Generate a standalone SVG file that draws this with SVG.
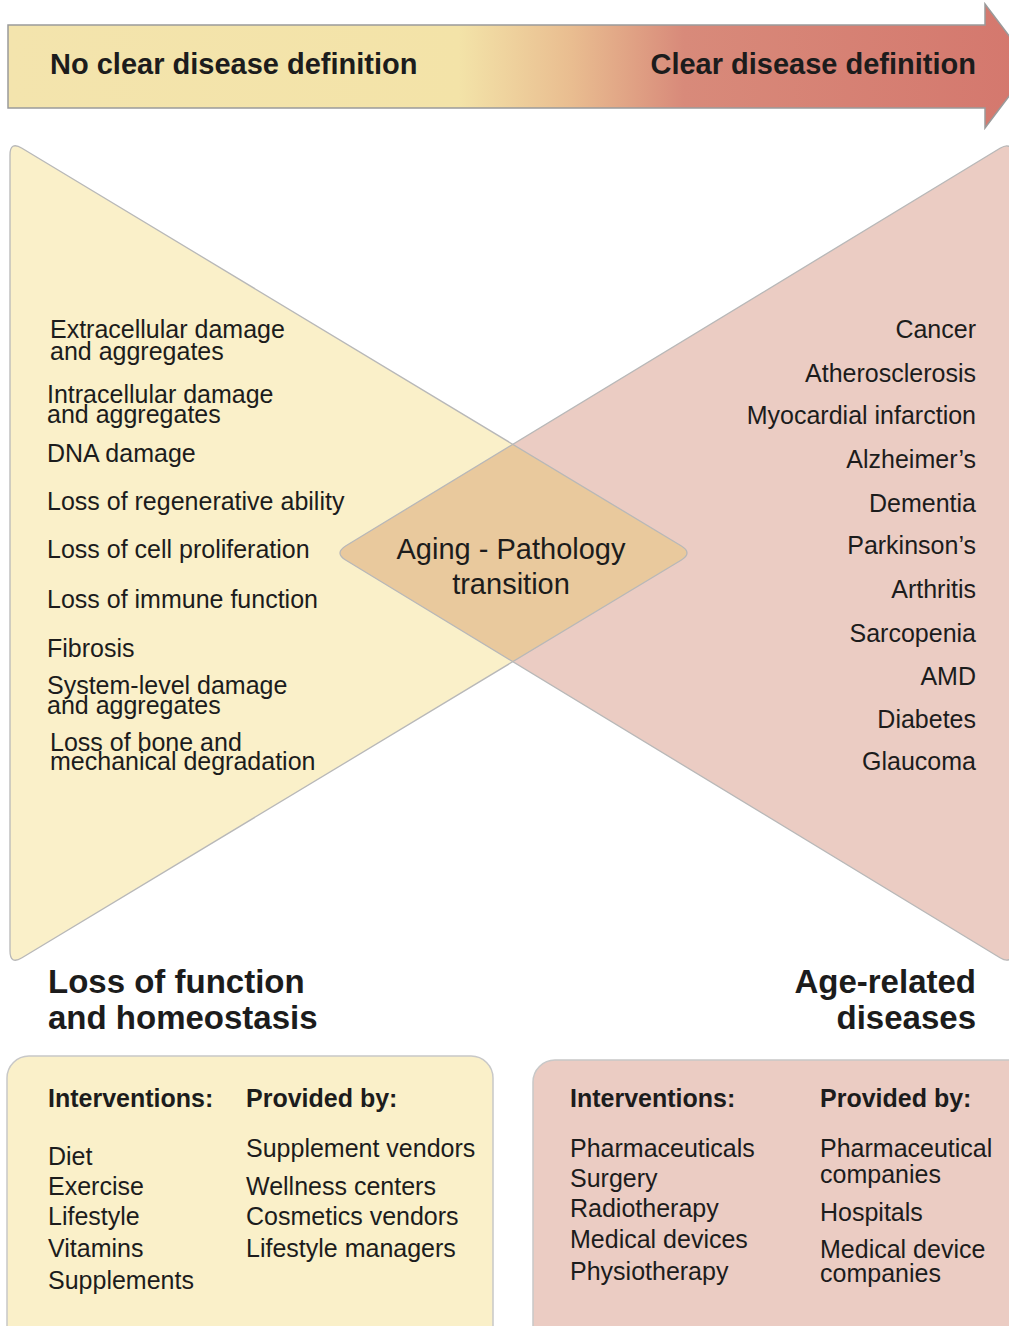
<svg xmlns="http://www.w3.org/2000/svg" width="1009" height="1326" viewBox="0 0 1009 1326">
<defs>
<linearGradient id="barGrad" x1="8" y1="0" x2="1032" y2="0" gradientUnits="userSpaceOnUse">
<stop offset="0" stop-color="#f3e4ad"/>
<stop offset="0.44" stop-color="#f3e3a8"/>
<stop offset="0.55" stop-color="#e9bd90"/>
<stop offset="0.66" stop-color="#d88a7a"/>
<stop offset="1" stop-color="#d4776d"/>
</linearGradient>
<style>
text{font-family:"Liberation Sans",Arial,Helvetica,sans-serif;fill:#1c1c1c;}
.item{font-size:25px;}
.r{text-anchor:end;}
.hb{font-size:29px;font-weight:bold;}
.head{font-size:33px;font-weight:bold;}
.sub{font-size:25px;font-weight:bold;}
.dia{font-size:29px;text-anchor:middle;}
.edge{fill:none;stroke:#b8b8b8;stroke-width:1.3;}
</style>
</defs>
<rect width="1009" height="1326" fill="#ffffff"/>

<g id="scale-arrow">
<path d="M8,25 L985,25 L985,4 L1032,66 L985,128 L985,108 L8,108 Z" fill="url(#barGrad)" stroke="#9a9a9a" stroke-width="1.5"/>
<text class="hb" x="50" y="74">No clear disease definition</text>
<text class="hb r" x="976" y="74">Clear disease definition</text>
</g>

<g id="loss-of-function">
<path d="M10,155 Q10,141 22,148.2 L681,545.8 Q693,553 681,560.2 L22,957.8 Q10,965 10,951 Z" fill="#faf0c9"/>
</g>
<g id="age-related-diseases">
<path d="M1012,155 Q1012,141 1000,148.3 L346,545.7 Q334,553 346,560.3 L1000,957.7 Q1012,965 1012,951 Z" fill="#ebccc3"/>
</g>
<g id="transition">
<path d="M346,545.7 L513,444.3 L681,545.8 Q693,553 681,560.2 L513,661.7 L346,560.3 Q334,553 346,545.7 Z" fill="#e9c99d"/>
</g>
<g id="outlines">
<path class="edge" d="M10,155 Q10,141 22,148.2 L681,545.8 Q693,553 681,560.2 L22,957.8 Q10,965 10,951 Z"/>
<path class="edge" d="M1012,155 Q1012,141 1000,148.3 L346,545.7 Q334,553 346,560.3 L1000,957.7 Q1012,965 1012,951 Z"/>
</g>

<g id="loss-items">
<text class="item" x="50" y="338">Extracellular damage</text>
<text class="item" x="50" y="360">and aggregates</text>
<text class="item" x="47" y="403">Intracellular damage</text>
<text class="item" x="47" y="423">and aggregates</text>
<text class="item" x="47" y="462">DNA damage</text>
<text class="item" x="47" y="510">Loss of regenerative ability</text>
<text class="item" x="47" y="558">Loss of cell proliferation</text>
<text class="item" x="47" y="608">Loss of immune function</text>
<text class="item" x="47" y="657">Fibrosis</text>
<text class="item" x="47" y="694">System-level damage</text>
<text class="item" x="47" y="714">and aggregates</text>
<text class="item" x="50" y="751">Loss of bone and</text>
<text class="item" x="50" y="770">mechanical degradation</text>
</g>

<g id="disease-items">
<text class="item r" x="976" y="338">Cancer</text>
<text class="item r" x="976" y="382">Atherosclerosis</text>
<text class="item r" x="976" y="424">Myocardial infarction</text>
<text class="item r" x="976" y="468">Alzheimer’s</text>
<text class="item r" x="976" y="512">Dementia</text>
<text class="item r" x="976" y="554">Parkinson’s</text>
<text class="item r" x="976" y="598">Arthritis</text>
<text class="item r" x="976" y="642">Sarcopenia</text>
<text class="item r" x="976" y="685">AMD</text>
<text class="item r" x="976" y="728">Diabetes</text>
<text class="item r" x="976" y="770">Glaucoma</text>
</g>

<g id="transition-label">
<text class="dia" x="511" y="559">Aging - Pathology</text>
<text class="dia" x="511" y="594">transition</text>
</g>

<g id="headings">
<text class="head" x="48" y="993">Loss of function</text>
<text class="head" x="48" y="1029">and homeostasis</text>
<text class="head r" x="976" y="993">Age-related</text>
<text class="head r" x="976" y="1029">diseases</text>
</g>

<g id="left-box">
<rect x="7" y="1056" width="486" height="310" rx="22" fill="#faf0c9" stroke="#c8c8c8" stroke-width="1.5"/>
<text class="sub" x="48" y="1107">Interventions:</text>
<text class="sub" x="246" y="1107">Provided by:</text>
<text class="item" x="48" y="1165">Diet</text>
<text class="item" x="48" y="1195">Exercise</text>
<text class="item" x="48" y="1225">Lifestyle</text>
<text class="item" x="48" y="1257">Vitamins</text>
<text class="item" x="48" y="1289">Supplements</text>
<text class="item" x="246" y="1157">Supplement vendors</text>
<text class="item" x="246" y="1195">Wellness centers</text>
<text class="item" x="246" y="1225">Cosmetics vendors</text>
<text class="item" x="246" y="1257">Lifestyle managers</text>
</g>

<g id="right-box">
<rect x="533" y="1060" width="500" height="310" rx="22" fill="#ebccc3" stroke="#c8c8c8" stroke-width="1.5"/>
<text class="sub" x="570" y="1107">Interventions:</text>
<text class="sub" x="820" y="1107">Provided by:</text>
<text class="item" x="570" y="1157">Pharmaceuticals</text>
<text class="item" x="570" y="1187">Surgery</text>
<text class="item" x="570" y="1217">Radiotherapy</text>
<text class="item" x="570" y="1248">Medical devices</text>
<text class="item" x="570" y="1280">Physiotherapy</text>
<text class="item" x="820" y="1157">Pharmaceutical</text>
<text class="item" x="820" y="1183">companies</text>
<text class="item" x="820" y="1221">Hospitals</text>
<text class="item" x="820" y="1258">Medical device</text>
<text class="item" x="820" y="1282">companies</text>
</g>
</svg>
